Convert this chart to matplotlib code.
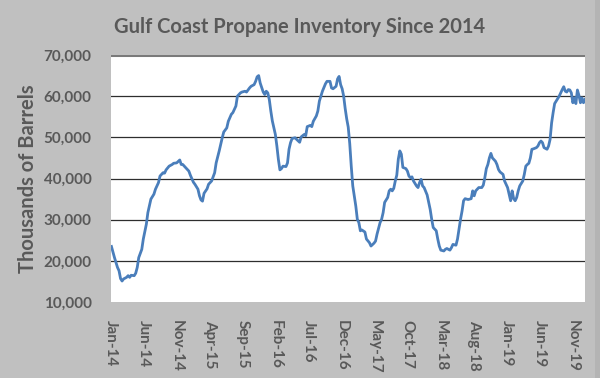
import pandas as pd
import matplotlib
matplotlib.use("Agg")
import matplotlib.pyplot as plt
import matplotlib.dates as mdates
from matplotlib.patches import Rectangle
from matplotlib.ticker import FuncFormatter, FixedLocator

plt.rcParams['font.family'] = ['Lato', 'DejaVu Sans']

# Weekly inventory (week number since first report)
weeks = [0, 2, 4, 5, 6, 7, 8, 10, 11, 12, 13, 15, 16, 17, 18, 20, 21, 23, 24, 26,
         28, 29, 31, 32, 34, 35, 36, 38, 40, 41, 43, 45, 46, 47, 50, 51, 52, 54, 55, 57,
         58, 59, 60, 61, 63, 64, 66, 68, 69, 71, 73, 74, 76, 77, 79, 80, 82, 83, 85, 86,
         88, 89, 91, 92, 94, 95, 96, 97, 98, 100, 101, 102, 103, 104, 105, 106, 108, 109, 110, 111,
         112, 113, 115, 116, 117, 118, 119, 121, 122, 124, 125, 127, 128, 129, 131, 132, 133, 135, 136, 137,
         138, 139, 141, 142, 144, 145, 146, 148, 149, 150, 151, 152, 153, 154, 155, 156, 157, 158, 159, 161,
         162, 163, 164, 165, 167, 168, 170, 171, 173, 174, 175, 177, 178, 179, 180, 182, 183, 184, 185, 186,
         187, 188, 189, 190, 191, 192, 194, 195, 196, 197, 198, 199, 201, 202, 203, 204, 205, 206, 208, 209,
         210, 211, 212, 214, 215, 216, 217, 219, 220, 221, 223, 224, 225, 227, 228, 229, 230, 231, 232, 233,
         235, 237, 238, 239, 240, 241, 242, 244, 245, 246, 247, 248, 249, 250, 251, 253, 254, 255, 256, 258,
         259, 261, 262, 263, 264, 265, 266, 267, 268, 269, 271, 272, 273, 274, 275, 276, 277, 278, 280, 281,
         282, 283, 284, 285, 287, 288, 289, 290, 291, 292, 293, 295, 296, 297, 298, 299, 300, 301, 302, 303,
         304, 305, 306, 307, 308, 309, 310, 311, 312]
inventory = [23500, 20800, 18400, 17600, 15700, 15100, 15600, 16000, 16400, 16000, 16500, 16400, 17000, 18400, 20800, 22800, 25300, 28900, 31700, 35000,
             36200, 37400, 39000, 40600, 41400, 41300, 42100, 43000, 43400, 43700, 43800, 44500, 43400, 43400, 42200, 41800, 40800, 39100, 38600, 37400,
             35800, 34800, 34500, 36400, 37500, 38600, 39400, 41400, 43800, 46700, 49900, 51300, 52300, 53900, 55600, 56000, 57600, 60000, 60800, 61000,
             61200, 61000, 62000, 62400, 62800, 63600, 64700, 65000, 63200, 61000, 60400, 61200, 60800, 59200, 56400, 54000, 50700, 47900, 44600, 42100,
             42400, 43000, 42900, 43800, 47100, 48700, 49700, 49900, 49500, 48800, 50100, 50700, 50400, 52600, 52900, 52600, 53900, 55200, 56400, 58800,
             60000, 61200, 63000, 63600, 63600, 62000, 61800, 62400, 64200, 64800, 62800, 61800, 60000, 57000, 54500, 52500, 48500, 43000, 38200, 33300,
             30100, 29300, 27300, 27500, 27000, 25300, 24400, 23600, 24300, 24800, 26500, 29300, 30100, 31700, 34200, 35400, 37000, 37400, 37000, 37600,
             39400, 40800, 44700, 46700, 45900, 42700, 42400, 41800, 40600, 40200, 40400, 39400, 38200, 37800, 39000, 39800, 38200, 37800, 36000, 34200,
             32500, 30100, 28100, 27300, 25300, 23600, 22600, 22400, 22800, 23000, 22600, 23200, 24000, 23800, 25300, 27700, 30100, 32100, 34600, 35100,
             34900, 35100, 37000, 35800, 37000, 37400, 37800, 37800, 38400, 40200, 42400, 43400, 45000, 46100, 45000, 44200, 43400, 42200, 41600, 41000,
             39400, 37800, 36200, 34600, 37000, 35100, 34600, 35400, 37000, 38200, 39400, 41000, 43000, 43400, 43700, 45000, 47100, 47200, 47500, 47900,
             48700, 49100, 48700, 47500, 47100, 47900, 49500, 53500, 56000, 58200, 58800, 60000, 60800, 61600, 62300, 61200, 61000, 61600, 61500, 60800,
             58400, 59600, 58200, 61500, 60200, 58400, 59600, 58400, 59200]

start_date = pd.Timestamp('2014-01-03')
dates = start_date + pd.to_timedelta([w * 7 for w in weeks], unit='D')

y_ticks = [10000, 20000, 30000, 40000, 50000, 60000, 70000]
x_tick_dates = pd.date_range('2014-01-01', '2019-11-01', freq='5MS')

bg = '#C0C0C0'
text_gray = '#595959'

fig = plt.figure(figsize=(6, 3.78), dpi=100, facecolor=bg)
# slightly darker strip down the right edge, like the source image
fig.patches.append(Rectangle((595 / 600, 0), 5 / 600, 1, transform=fig.transFigure,
                             facecolor='#B4B4B4', edgecolor='none', zorder=0))

ax = fig.add_axes([0.185, 0.201, 0.79, 0.6535])
ax.set_facecolor('white')

# horizontal gridlines (top one is grey and heavier)
for v in y_ticks[1:-1]:
    ax.axhline(v, color='#2E2E2E', lw=0.9, zorder=1)
ax.axhline(y_ticks[-1], color='#7A7A7A', lw=2.2, zorder=1)

ax.plot(dates, inventory, color='#4A7EBB', lw=2.0, zorder=3)

ax.set_ylim(10000, 70000)
ax.set_xlim(pd.Timestamp('2014-01-01'), dates[-1])
ax.yaxis.set_major_locator(FixedLocator(y_ticks))
ax.yaxis.set_major_formatter(FuncFormatter(lambda v, p: f'{int(v):,}'))
ax.xaxis.set_major_locator(FixedLocator(mdates.date2num(x_tick_dates)))
ax.xaxis.set_major_formatter(mdates.DateFormatter('%b-%y'))

for s in ax.spines.values():
    s.set_visible(False)
ax.tick_params(axis='both', length=0, colors=text_gray, labelsize=11)
ax.tick_params(axis='y', pad=14)
ax.tick_params(axis='x', pad=13)
for lbl in ax.get_xticklabels():
    lbl.set_rotation(270)
    lbl.set_fontweight('bold')
for lbl in ax.get_yticklabels():
    lbl.set_fontweight('bold')

ax.set_ylabel('Thousands of Barrels', fontsize=14.5, fontweight='bold', color=text_gray)
ax.yaxis.set_label_coords(-0.154, 0.5)
fig.text(0.5, 0.928, 'Gulf Coast Propane Inventory Since 2014', ha='center', va='center',
         fontsize=14.5, fontweight='bold', color=text_gray)

fig.savefig('out.png', dpi=100, facecolor=bg)
